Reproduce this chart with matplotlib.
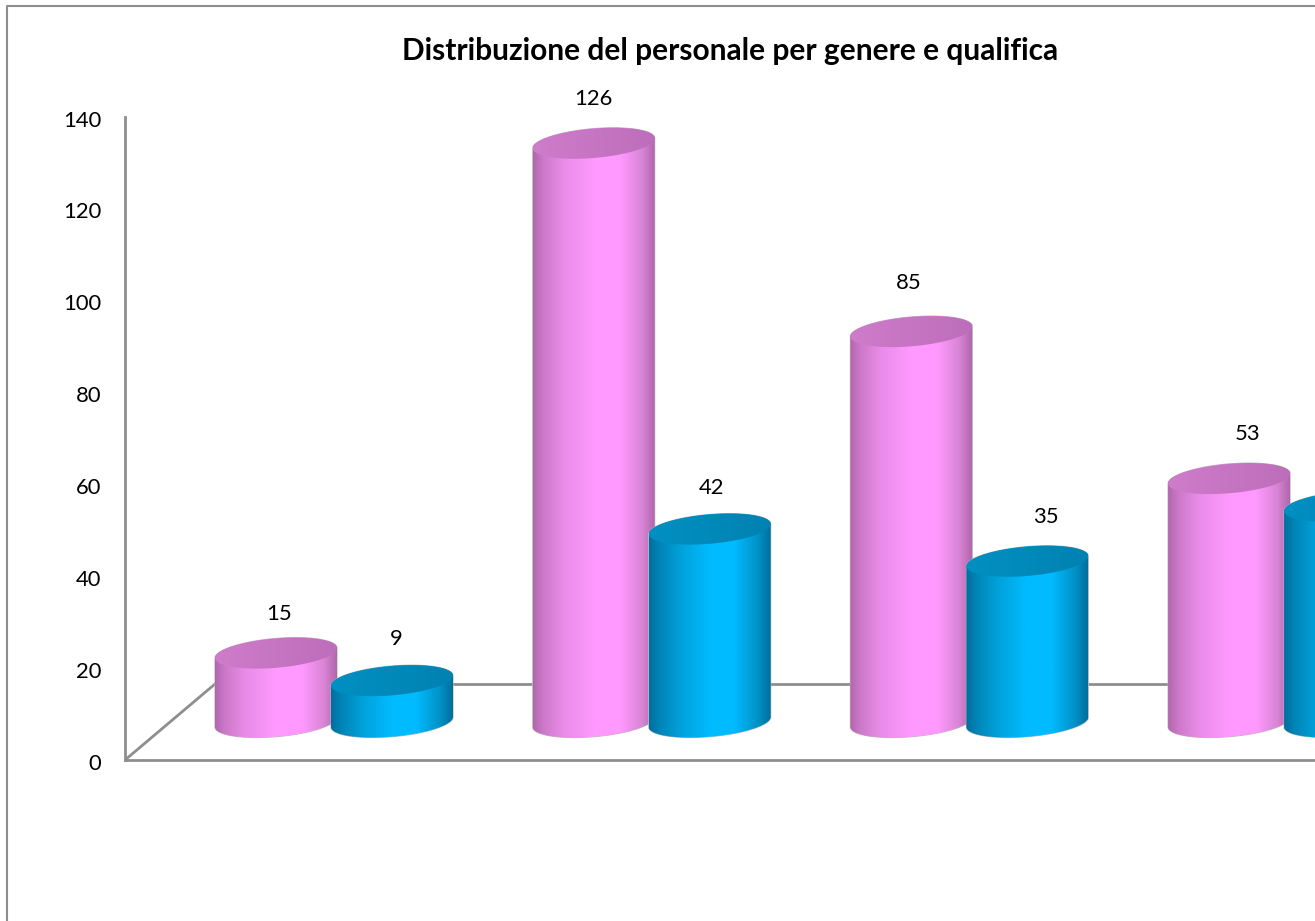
import numpy as np
import matplotlib
matplotlib.use("Agg")
import matplotlib.pyplot as plt
from matplotlib.colors import LinearSegmentedColormap
from matplotlib.lines import Line2D
from matplotlib.patches import Polygon
from matplotlib.transforms import ScaledTranslation

plt.rcParams['font.family'] = ['Lato', 'DejaVu Sans']

# Data
title = "Distribuzione del personale per genere e qualifica"
donne = [15, 126, 85, 53]
uomini = [9, 42, 35, 47]
y_ticks = [0, 20, 40, 60, 80, 100, 120, 140]

# Label nudges in pixels (x, y), relative to the top of each cylinder
# (the last "uomini" label falls outside the cropped picture)
nudge_donne = [(3, 39), (0, 44), (-3, 49), (18, 45)]
nudge_uomini = [(4, 42), (2, 41), (19, 44), None]

W, H = 1315, 921
X0, X1, Y0, Y1 = 125, 1315, 760, 117
GROUP_PX = 317.7
GROUP0_PX = 334
PX_PER_UNIT = (Y0 - Y1) / 140.0
BAR_OFF = 58 / GROUP_PX
A = 61 / GROUP_PX           # half width (group units)
B = 14.7 / PX_PER_UNIT      # half minor (value units)
K = 5.0 / PX_PER_UNIT       # tilt (value units)
BASE = 38 / PX_PER_UNIT     # floor offset of the cylinder base
BACK = 76 / PX_PER_UNIT     # height of the back-floor line
GREY = '#8E8E8E'

fig = plt.figure(figsize=(W / 100, H / 100), dpi=100, facecolor='white')
ax = fig.add_axes([X0 / W, 1 - Y0 / H, (X1 - X0) / W, (Y0 - Y1) / H])
xlim = ((X0 - GROUP0_PX) / GROUP_PX, (X1 - GROUP0_PX) / GROUP_PX)

# Chart-area border (cropped at the right and bottom)
fig.add_artist(Line2D([7 / W, 7 / W, 1], [0, 1 - 6.5 / H, 1 - 6.5 / H], color=GREY, lw=1.5))

pink = LinearSegmentedColormap.from_list('pink', [
    (0, '#B066AC'), (0.08, '#CC78C8'), (0.25, '#E88CE8'), (0.5, '#FF99FF'),
    (0.72, '#FF99FF'), (0.9, '#D884D4'), (1, '#B066AC')])
blue = LinearSegmentedColormap.from_list('blue', [
    (0, '#006E9E'), (0.08, '#0083B5'), (0.25, '#00A0D8'), (0.5, '#00BBFF'),
    (0.7, '#00BBFF'), (0.9, '#0090C4'), (1, '#006E9C')])
top_pink = LinearSegmentedColormap.from_list('tp', ['#CF7CCB', '#BD6EBA'])
top_blue = LinearSegmentedColormap.from_list('tb', ['#0090C2', '#0082B2'])
ramp = np.linspace(0, 1, 256)[None, :]


def ellipse(cx, cy, t):
    return np.column_stack([cx + A * np.cos(t), cy + K * np.cos(t) + B * np.sin(t)])


def cylinder(cx, value, body_cmap, top_cmap, z):
    top = BASE + value
    pts = np.vstack([ellipse(cx, BASE, np.linspace(np.pi, 2 * np.pi, 60)),
                     ellipse(cx, top, np.linspace(0, np.pi, 60))])
    outline = Polygon(pts, closed=True, fc='none', ec='#B8B8B8', lw=0.8, zorder=z)
    ax.add_patch(outline)
    ymin, ymax = BASE - 6, top + 6
    im = ax.imshow(ramp, cmap=body_cmap, aspect='auto', zorder=z,
                   extent=(cx - A, cx + A, ymin, ymax), interpolation='bilinear')
    im.set_clip_path(Polygon(pts, closed=True, transform=ax.transData))

    face = ellipse(cx, top, np.linspace(0, 2 * np.pi, 120))
    im2 = ax.imshow(ramp, cmap=top_cmap, aspect='auto', zorder=z + 0.1,
                    extent=(cx - A, cx + A, top - 6, top + 6), interpolation='bilinear')
    im2.set_clip_path(Polygon(face, closed=True, transform=ax.transData))


def value_label(x, value, nudge):
    if nudge is None:
        return
    ax.annotate(str(value), (x, BASE + value), xytext=(nudge[0] * 0.72, nudge[1] * 0.72),
                textcoords='offset points', ha='center', va='center', fontsize=15.8,
                color='black', zorder=20, annotation_clip=False)


for i, (d, u) in enumerate(zip(donne, uomini)):
    cylinder(i - BAR_OFF, d, pink, top_pink, 3 + i)
    cylinder(i + BAR_OFF, u, blue, top_blue, 3.5 + i)
    value_label(i - BAR_OFF, d, nudge_donne[i])
    value_label(i + BAR_OFF, u, nudge_uomini[i])

# Floor: back line and side diagonal
ax.plot([xlim[0] + 90 / GROUP_PX, xlim[1]], [BACK, BACK], color=GREY, lw=2.0, zorder=1, solid_capstyle='butt')
ax.plot([xlim[0], xlim[0] + 90 / GROUP_PX], [0, BACK], color=GREY, lw=2.0, zorder=1)

ax.set_xlim(*xlim)
ax.set_ylim(0, 140)
ax.set_xticks([])
ax.set_yticks(y_ticks)
ax.tick_params(axis='y', length=0, pad=17, labelsize=15.8, labelcolor='black')
shift = ScaledTranslation(0, -1.5 / 100, fig.dpi_scale_trans)
for lab in ax.get_yticklabels():
    lab.set_transform(lab.get_transform() + shift)
ax.patch.set_alpha(0)
for s in ('top', 'right'):
    ax.spines[s].set_visible(False)
for s in ('left', 'bottom'):
    ax.spines[s].set_color(GREY)
    ax.spines[s].set_linewidth(2.0)

fig.text(730 / W, 1 - 51 / H, title, ha='center', va='center', fontsize=21.5,
         fontweight='bold', color='black')

fig.savefig('out.png', dpi=100)
